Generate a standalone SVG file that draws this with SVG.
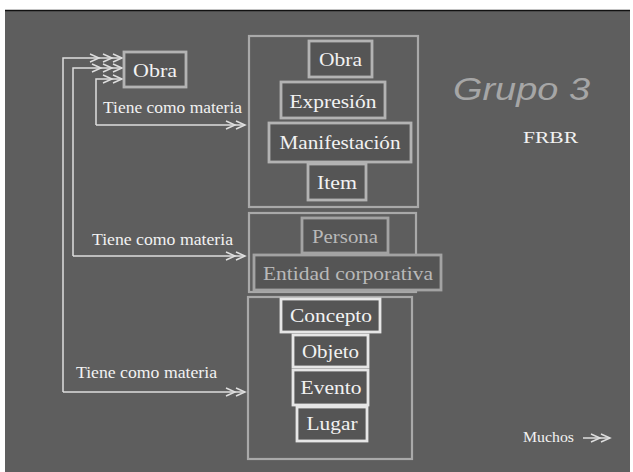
<svg xmlns="http://www.w3.org/2000/svg" width="633" height="472" viewBox="0 0 633 472">
<style>
  .bg { fill: #5e5e5e; }
  .grp { fill: none; stroke: #a9a9a9; stroke-width: 2.2; }
  .node rect { fill: #555555; stroke: #b3b3b3; stroke-width: 2.8; }
  .node text { font-family: "Liberation Serif", "Times New Roman", serif; font-size: 19px; fill: #f2f2f2; text-anchor: middle; }
  .dim rect { stroke: #a3a3a3; }
  .dim text { fill: #b9b9b9; }
  .bright rect { stroke: #e6e6e6; }
  .conn path { fill: none; stroke: #dedede; stroke-width: 1.5; }
  .lbl { font-family: "Liberation Serif", "Times New Roman", serif; font-size: 16px; fill: #f2f2f2; }
</style>
<defs>
  <marker id="dbl" markerUnits="userSpaceOnUse" markerWidth="26" markerHeight="12" viewBox="-24 -6 26 12" refX="0" refY="0" orient="auto" overflow="visible">
    <path d="M-19,-4 L-10,0 L-19,4 M-9,-4 L0,0 L-9,4" fill="none" stroke="#dedede" stroke-width="1.5"/>
  </marker>
  <marker id="sgl" markerUnits="userSpaceOnUse" markerWidth="14" markerHeight="12" viewBox="-12 -6 14 12" refX="0" refY="0" orient="auto" overflow="visible">
    <path d="M-9,-4 L0,0 L-9,4" fill="none" stroke="#dedede" stroke-width="1.5"/>
  </marker>
</defs>
<rect x="0" y="0" width="633" height="472" fill="#ffffff"/>
<rect class="bg" x="5" y="10" width="625" height="462"/>
<line x1="5" y1="10.5" x2="630" y2="10.5" stroke="#111111" stroke-width="1.5"/>

<g id="groups">
  <rect id="grupo1" class="grp" x="249" y="36" width="169" height="171"/>
  <rect id="grupo2" class="grp" x="249" y="213" width="167" height="79"/>
  <rect id="grupo3" class="grp" x="248" y="297" width="164" height="162"/>
</g>

<g id="connectors" class="conn">
  <path d="M63,392 L63,58 L99,58" marker-end="url(#sgl)"/>
  <path d="M99,58 L122,58" marker-end="url(#dbl)"/>
  <path d="M73,256 L73,68 L101,68" marker-end="url(#sgl)"/>
  <path d="M101,68 L122,68" marker-end="url(#dbl)"/>
  <path d="M96,125 L96,79 L122,79" marker-end="url(#dbl)"/>
  <path d="M96,125 L245,125" marker-end="url(#dbl)"/>
  <path d="M73,256 L245,256" marker-end="url(#dbl)"/>
  <path d="M63,392 L245,392" marker-end="url(#dbl)"/>
  <path d="M583,438 L610,438" marker-end="url(#dbl)"/>
</g>

<g id="labels">
  <text class="lbl" x="103" y="113" textLength="139" lengthAdjust="spacingAndGlyphs">Tiene como materia</text>
  <text class="lbl" x="92" y="245" textLength="141" lengthAdjust="spacingAndGlyphs">Tiene como materia</text>
  <text class="lbl" x="76" y="378" textLength="141" lengthAdjust="spacingAndGlyphs">Tiene como materia</text>
</g>

<g id="obra-src" class="node"><rect x="124" y="52" width="62" height="35"/><text x="155" y="77" textLength="44" lengthAdjust="spacingAndGlyphs">Obra</text></g>

<g id="obra" class="node"><rect x="309" y="41" width="63" height="36"/><text x="340.5" y="66" textLength="43" lengthAdjust="spacingAndGlyphs">Obra</text></g>
<g id="expresion" class="node"><rect x="281" y="82" width="104" height="36"/><text x="333" y="108" textLength="87" lengthAdjust="spacingAndGlyphs">Expresión</text></g>
<g id="manifestacion" class="node"><rect x="269" y="123" width="142" height="39"/><text x="340" y="149" textLength="121" lengthAdjust="spacingAndGlyphs">Manifestación</text></g>
<g id="item" class="node"><rect x="308" y="164" width="58" height="36"/><text x="337" y="189" textLength="40" lengthAdjust="spacingAndGlyphs">Item</text></g>

<g id="persona" class="node dim"><rect x="302" y="218" width="86" height="35"/><text x="345" y="243" textLength="66" lengthAdjust="spacingAndGlyphs">Persona</text></g>
<g id="entidad" class="node dim"><rect x="254" y="255" width="187" height="35"/><text x="348" y="280" textLength="170" lengthAdjust="spacingAndGlyphs">Entidad corporativa</text></g>

<g id="concepto" class="node bright"><rect x="281" y="299" width="99" height="33"/><text x="331" y="322" textLength="82" lengthAdjust="spacingAndGlyphs">Concepto</text></g>
<g id="objeto" class="node bright"><rect x="293" y="335" width="75" height="32"/><text x="330.5" y="358" textLength="57" lengthAdjust="spacingAndGlyphs">Objeto</text></g>
<g id="evento" class="node bright"><rect x="293" y="370" width="75" height="35"/><text x="331" y="394" textLength="61" lengthAdjust="spacingAndGlyphs">Evento</text></g>
<g id="lugar" class="node bright"><rect x="297" y="407" width="70" height="34"/><text x="332" y="430" textLength="51" lengthAdjust="spacingAndGlyphs">Lugar</text></g>

<g id="titles">
  <text x="453" y="100" font-family="Liberation Sans, Arial, sans-serif" font-style="italic" font-size="32" fill="#a6a6a6" textLength="137" lengthAdjust="spacingAndGlyphs">Grupo 3</text>
  <text x="523" y="143" font-family="Liberation Serif, Times New Roman, serif" font-size="17" fill="#f2f2f2" textLength="55" lengthAdjust="spacingAndGlyphs">FRBR</text>
  <text x="523" y="442" font-family="Liberation Serif, Times New Roman, serif" font-size="14" fill="#f2f2f2" textLength="51" lengthAdjust="spacingAndGlyphs">Muchos</text>
</g>
</svg>
